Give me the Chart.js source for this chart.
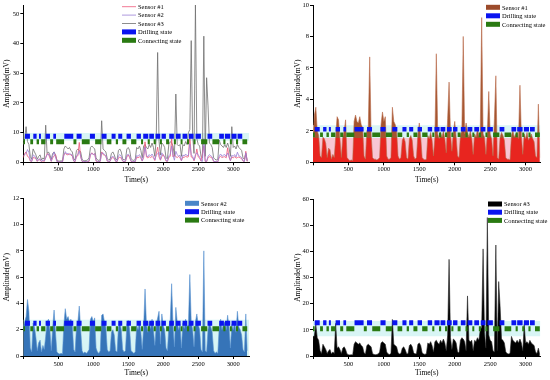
<!DOCTYPE html>
<html>
<head>
<meta charset="utf-8">
<script src="https://cdn.jsdelivr.net/npm/chart.js@4.4.1/dist/chart.umd.min.js"></script>
<style>
  body { margin: 0; background: #fff; }
  .panel { position: absolute; width: 275px; height: 190px; }
</style>
</head>
<body>
<div class="panel" style="left:0;top:0"><canvas id="c1" width="275" height="190"></canvas></div>
<div class="panel" style="left:275px;top:0"><canvas id="c2" width="275" height="190"></canvas></div>
<div class="panel" style="left:0;top:190px"><canvas id="c3" width="275" height="190"></canvas></div>
<div class="panel" style="left:275px;top:190px"><canvas id="c4" width="275" height="190"></canvas></div>
<script>
// samples every 20 s, 0 .. 3200 s
const step = 20;

const sensor1 = [
  1.6, 3.0, 3.5, 2.0, 1.7, 0.4, 0.3, 1.6, 1.5, 1.2,
  0.3, 0.9, 0.8, 0.2, 0.5, 0.3, 1.6, 2.9, 2.7, 1.5,
  0.3, 1.6, 2.0, 2.7, 0.3, 0.2, 0.1, 0.15, 0.1, 2.6,
  3.0, 2.6, 2.5, 2.9, 2.4, 2.2, 0.4, 0.2, 2.0, 2.2,
  6.7, 1.8, 0.3, 0.2, 0.2, 0.15, 0.2, 0.3, 2.4, 3.2,
  2.6, 2.9, 0.4, 0.2, 0.2, 0.3, 3.5, 2.6, 2.4, 2.0,
  0.4, 0.2, 0.3, 1.4, 1.6, 1.3, 0.3, 0.2, 1.5, 1.7,
  1.4, 0.4, 0.2, 0.3, 1.8, 2.5, 1.6, 0.3, 0.2, 0.15,
  0.2, 1.7, 1.5, 1.9, 1.4, 0.4, 1.6, 6.9, 1.8, 1.5,
  1.9, 1.6, 2.0, 1.5, 0.6, 2.8, 5.1, 1.8, 0.7, 1.9,
  2.6, 1.6, 0.4, 0.3, 1.7, 2.0, 8.0, 1.8, 2.5, 1.9,
  1.6, 2.0, 1.5, 0.5, 1.8, 1.6, 2.1, 1.7, 1.9, 9.2,
  1.8, 1.6, 0.5, 1.9, 4.5, 1.8, 1.5, 0.4, 2.8, 5.5,
  0.3, 0.2, 1.6, 1.9, 1.7, 1.4, 0.3, 0.2, 0.2, 0.15,
  1.7, 2.0, 1.6, 1.8, 1.9, 1.5, 4.9, 1.7, 0.5, 1.8,
  1.5, 1.9, 1.4, 1.6, 1.8, 1.5, 1.3, 0.4, 0.3, 3.7,
  0.3
];

const sensor2 = [
  2.2, 2.6, 3.0, 4.3, 3.4, 0.6, 0.3, 2.5, 2.2, 1.4,
  0.4, 1.0, 1.2, 0.3, 0.8, 0.5, 1.5, 2.6, 2.8, 2.0,
  0.4, 2.2, 3.5, 1.8, 0.3, 0.2, 0.15, 0.2, 0.15, 2.4,
  3.6, 2.8, 3.0, 2.6, 2.8, 2.4, 0.5, 0.3, 2.2, 2.6,
  3.8, 2.0, 0.4, 0.2, 0.3, 0.2, 0.3, 0.5, 2.8, 3.0,
  2.6, 2.9, 0.6, 0.3, 0.2, 0.4, 3.1, 3.2, 2.6, 2.2,
  0.5, 0.3, 0.4, 1.8, 2.0, 1.6, 0.4, 0.3, 2.2, 2.6,
  2.0, 0.5, 0.3, 0.4, 2.4, 2.7, 2.0, 0.4, 0.3, 0.2,
  0.3, 2.3, 2.0, 2.6, 1.8, 0.5, 2.2, 5.1, 2.4, 1.8,
  2.6, 2.1, 2.8, 2.0, 0.8, 2.4, 2.9, 3.4, 0.9, 3.2,
  2.3, 2.0, 0.6, 0.4, 2.2, 2.7, 5.5, 2.3, 0.7, 3.7,
  2.6, 2.0, 2.4, 0.6, 2.5, 2.1, 2.8, 2.2, 2.4, 6.2,
  2.6, 2.0, 0.7, 2.6, 3.2, 2.4, 2.0, 0.5, 0.3, 8.0,
  0.4, 0.3, 2.0, 2.6, 2.2, 1.8, 0.4, 0.2, 0.3, 0.2,
  2.2, 2.8, 2.0, 2.4, 2.6, 2.0, 3.1, 2.2, 0.6, 2.4,
  2.0, 2.6, 1.8, 3.4, 2.2, 2.0, 1.6, 0.5, 0.3, 3.2,
  0.4
];

const sensor3 = [
  6, 8, 12, 7, 6, 2, 1, 4.5, 3.5, 2.5,
  1, 2, 2.5, 0.8, 1.5, 1, 12.5, 3, 3.5, 2.5,
  1, 3, 3.5, 2.5, 0.8, 0.5, 0.4, 0.5, 0.4, 4.5,
  5.5, 5, 4.5, 5, 4, 3.5, 1.2, 0.8, 4, 4.5,
  4, 3.5, 1, 0.6, 0.5, 0.6, 0.8, 1.5, 5, 5.5,
  5, 4.5, 1.5, 0.8, 0.6, 1, 14, 4.5, 4, 3.5,
  1.2, 0.8, 1, 3, 3.5, 2.5, 1, 0.8, 4, 4.5,
  3.5, 1.2, 0.8, 1, 4.5, 5, 4, 1.2, 0.8, 0.6,
  1, 5, 4.5, 5.5, 4, 1.5, 5.5, 6, 5, 4.5,
  6, 5, 6.5, 5, 2, 8, 37, 7, 2.5, 6.5,
  6, 5, 1.5, 1.2, 6, 7, 6.5, 5.5, 2, 23,
  6, 5.5, 6, 2, 6, 5.5, 7, 6, 10, 11,
  41, 9, 3, 53, 8, 6, 5.5, 2, 1.5, 42.5,
  2, 28.5, 19, 6.5, 6, 5, 1.5, 1, 0.8, 1,
  7.5, 6, 5.5, 5, 6, 5, 6.5, 5, 2, 12,
  5, 5.5, 4.5, 6, 5, 4.5, 4, 1.5, 1, 3,
  0.5
];

// drilling / connecting periods (s)
const drillStart = [24, 143, 224, 319, 429, 586, 762, 952, 1119, 1262, 1357, 1476, 1619, 1714, 1800, 1890, 1976, 2086, 2181, 2276, 2367, 2462, 2633, 2800, 2881, 2976, 3062];
const drillEnd   = [95, 190, 252, 381, 467, 714, 833, 1024, 1190, 1319, 1414, 1538, 1681, 1786, 1867, 1957, 2038, 2152, 2248, 2343, 2433, 2538, 2700, 2867, 2957, 3048, 3129];
const connStart  = [0, 100, 190, 255, 384, 470, 717, 836, 1027, 1193, 1322, 1417, 1541, 1683, 1778, 1863, 1952, 2041, 2152, 2248, 2340, 2433, 2541, 2703, 2859, 2952, 3040, 3132];
const connEnd    = [24, 140, 224, 316, 426, 583, 759, 949, 1116, 1259, 1354, 1473, 1616, 1712, 1808, 1894, 1981, 2083, 2181, 2276, 2370, 2462, 2630, 2797, 2889, 2981, 3070, 3200];

// level of the state rows in each panel (top-left, top-right, bottom-left, bottom-right)
const drillLevel = [8.8, 2.1, 2.5, 12.7];
const connLevel  = [6.9, 1.75, 2.08, 10.4];
const bandLow    = [7.3, 1.55, 0, 7.6];
const bandHigh   = [9.9, 2.35, 2.75, 13.4];
const pinkTop = 1.55;

// axis ticks
const timeTicks = [0, 500, 1000, 1500, 2000, 2500, 3000];
const ampTicks1 = [0, 10, 20, 30, 40, 50];
const ampTicks2 = [0, 2, 4, 6, 8, 10];
const ampTicks3 = [0, 2, 4, 6, 8, 10, 12];
const ampTicks4 = [0, 10, 20, 30, 40, 50, 60];

const BLUE = '#0a14f0', GREEN = '#2a7a12';

Chart.defaults.font.family = '"Liberation Serif", "Times New Roman", serif';
Chart.defaults.color = '#000';

function series(vals) {
  return vals.map((v, i) => ({x: i * step, y: v}));
}

function periods(starts, ends, level) {
  const pts = [];
  starts.forEach((s, i) => {
    pts.push({x: s, y: level}, {x: ends[i], y: level}, {x: ends[i], y: null});
  });
  return pts;
}

function stateSets(p, width) {
  return [
    {label: 'Drilling state', data: periods(drillStart, drillEnd, drillLevel[p]), borderColor: BLUE,
     swatch: 'box', borderWidth: width, borderCapStyle: 'butt', spanGaps: false, pointRadius: 0, fill: false, order: 0},
    {label: 'Connecting state', data: periods(connStart, connEnd, connLevel[p]), borderColor: GREEN,
     swatch: 'box', borderWidth: width, borderCapStyle: 'butt', spanGaps: false, pointRadius: 0, fill: false, order: 0}
  ];
}

function bandSet(lo, hi, xMax, color) {
  return {data: [{x: 0, y: hi}, {x: xMax, y: hi}], fill: {value: lo}, backgroundColor: color,
          borderWidth: 0, pointRadius: 0, order: 5};
}

const panelLegend = {
  id: 'panelLegend',
  afterDraw(chart, args, opts) {
    const ctx = chart.ctx;
    ctx.save();
    ctx.font = '6.5px "Liberation Serif"';
    ctx.textBaseline = 'middle';
    let y = opts.y;
    chart.data.datasets.forEach(ds => {
      if (!ds.label) return;
      const c = ds.swatchColor || ds.borderColor;
      if (ds.swatch === 'line') {
        ctx.strokeStyle = c;
        ctx.lineWidth = 0.8;
        ctx.beginPath();
        ctx.moveTo(opts.x, y);
        ctx.lineTo(opts.x + 14, y);
        ctx.stroke();
      } else {
        ctx.fillStyle = c;
        ctx.fillRect(opts.x, y - 2.5, 14, 5);
      }
      ctx.fillStyle = '#000';
      ctx.fillText(ds.label, opts.x + 16, y + 0.5);
      y += opts.dy;
    });
    ctx.restore();
  }
};

function makeChart(id, c) {
  return new Chart(document.getElementById(id), {
    type: 'line',
    data: {datasets: c.datasets},
    plugins: [panelLegend],
    options: {
      responsive: false,
      animation: false,
      events: [],
      layout: {padding: {left: 0, right: c.padRight, top: c.padTop, bottom: 0}},
      elements: {line: {tension: 0}, point: {radius: 0}},
      plugins: {
        legend: {display: false},
        tooltip: {enabled: false},
        panelLegend: c.legend
      },
      scales: {
        x: {
          type: 'linear', min: 0, max: c.xMax,
          afterBuildTicks: s => { s.ticks = timeTicks.map(v => ({value: v})); },
          afterFit: s => { s.height = c.xH; },
          border: {color: '#000', width: 1},
          grid: {drawOnChartArea: false, tickLength: 3, color: '#000'},
          ticks: {maxRotation: 0, autoSkip: false, padding: c.xTickPad,
                  font: {size: 6.5}, callback: v => v === 0 ? '' : v},
          title: {display: true, text: 'Time(s)', font: {size: 7.5}, padding: {top: 0, bottom: c.xTitlePad}}
        },
        y: {
          type: 'linear', min: 0, max: c.yMax,
          afterBuildTicks: s => { s.ticks = c.yTicks.map(v => ({value: v})); },
          afterFit: s => { s.width = c.yW; },
          border: {color: '#000', width: 1},
          grid: {drawOnChartArea: false, tickLength: 3, color: '#000'},
          ticks: {autoSkip: false, padding: 1, font: {size: 6.5}},
          title: {display: true, text: 'Amplitude(mV)', font: {size: 7.5}, padding: {top: c.yTitlePad, bottom: 0}}
        }
      }
    }
  });
}

// top-left: all three sensors as lines
makeChart('c1', {
  xMax: 3230, yMax: 53, yTicks: ampTicks1, yW: 23.3, yTitlePad: 3, padRight: 25.7, padTop: 5,
  xH: 27.7, xTickPad: 0, xTitlePad: 5.8,
  legend: {x: 122, y: 6.7, dy: 8.4},
  datasets: [
    {label: 'Sensor #1', data: series(sensor1), borderColor: '#ee5577', borderWidth: 0.8, swatch: 'line', fill: false, order: 2},
    {label: 'Sensor #2', data: series(sensor2), borderColor: '#9a7fd6', borderWidth: 0.8, swatch: 'line', fill: false, order: 1},
    {label: 'Sensor #3', data: series(sensor3), borderColor: '#707070', borderWidth: 0.8, swatch: 'line', fill: false, order: 3},
    ...stateSets(0, 5),
    bandSet(bandLow[0], bandHigh[0], 3230, '#d8f5f5')
  ]
});

// top-right: sensor #1
makeChart('c2', {
  xMax: 3210, yMax: 10, yTicks: ampTicks2, yW: 38, yTitlePad: 19, padRight: 9.5, padTop: 5,
  xH: 27.7, xTickPad: 0, xTitlePad: 5.8,
  legend: {x: 211, y: 7.3, dy: 8.5},
  datasets: [
    {label: 'Sensor #1', data: series(sensor1), borderColor: '#b8694a', borderWidth: 0.6, swatch: 'box', swatchColor: '#9c4b2b',
     fill: 'origin', order: 2,
     backgroundColor: ctx => {
       const chart = ctx.chart, area = chart.chartArea;
       if (!area) return '#a4552f';
       const p = chart.scales.y.getPixelForValue(pinkTop);
       const f = (area.bottom - p) / (area.bottom - area.top);
       const g = chart.ctx.createLinearGradient(0, area.bottom, 0, area.top);
       g.addColorStop(0, '#e8251f');
       g.addColorStop(f, '#e8251f');
       g.addColorStop(f, '#a4552f');
       g.addColorStop(1, '#a4552f');
       return g;
     }},
    ...stateSets(1, 4.5),
    bandSet(bandLow[1], bandHigh[1], 3210, '#d8f5f5'),
    bandSet(0, pinkTop, 3210, '#f8c6d4')
  ]
});

// bottom-left: sensor #2
makeChart('c3', {
  xMax: 3230, yMax: 12, yTicks: ampTicks3, yW: 23.3, yTitlePad: 3, padRight: 25.7, padTop: 8.3,
  xH: 24, xTickPad: 1, xTitlePad: 2.8,
  legend: {x: 185, y: 13.3, dy: 8.4},
  datasets: [
    {label: 'Sensor #2', data: series(sensor2), borderColor: '#5b93d2', borderWidth: 0.6, swatch: 'box', swatchColor: '#4a86c8',
     fill: 'origin', backgroundColor: '#3674b8', order: 2},
    ...stateSets(2, 5),
    bandSet(bandLow[2], bandHigh[2], 3230, '#d8f5f5')
  ]
});

// bottom-right: sensor #3
makeChart('c4', {
  xMax: 3210, yMax: 60, yTicks: ampTicks4, yW: 38, yTitlePad: 19, padRight: 9.5, padTop: 9.3,
  xH: 24, xTickPad: 1, xTitlePad: 2.8,
  legend: {x: 213, y: 14, dy: 8.2},
  datasets: [
    {label: 'Sensor #3', data: series(sensor3), borderColor: '#222', borderWidth: 0.6, swatch: 'box', swatchColor: '#000',
     fill: 'origin', backgroundColor: '#000', order: 2},
    ...stateSets(3, 5),
    bandSet(bandLow[3], bandHigh[3], 3210, '#d8f5f5')
  ]
});
</script>
</body>
</html>
